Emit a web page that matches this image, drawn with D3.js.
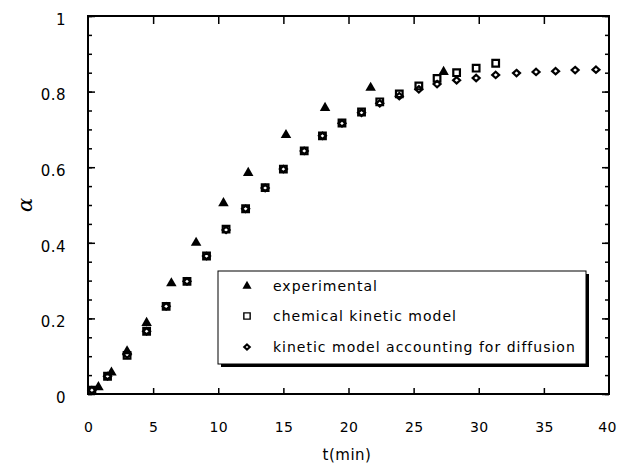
<!DOCTYPE html>
<html>
<head>
<meta charset="utf-8">
<script src="https://cdn.jsdelivr.net/npm/d3@7"></script>
<style>
  html, body { margin: 0; padding: 0; background: #fff; }
  svg { display: block; }
  text { font-family: "DejaVu Sans", sans-serif; fill: #000; }
</style>
</head>
<body>
<svg id="chart" width="618" height="466"></svg>
<script>
// ---- data ----
const expT     = [0.8, 1.8, 3.0, 4.5, 6.4, 8.3, 10.4, 12.3, 15.2, 18.2, 21.7, 27.3];
const expAlpha = [0.018, 0.057, 0.113, 0.188, 0.293, 0.400, 0.505, 0.585, 0.685, 0.757, 0.810, 0.852];

const chemT     = [0.3, 1.5, 3.0, 4.5, 6.0, 7.6, 9.1, 10.6, 12.1, 13.6, 15.0, 16.6, 18.0, 19.5, 21.0, 22.4, 23.9, 25.4, 26.8, 28.3, 29.8, 31.3];
const chemAlpha = [0.010, 0.047, 0.102, 0.166, 0.232, 0.298, 0.365, 0.436, 0.490, 0.546, 0.595, 0.643, 0.683, 0.717, 0.746, 0.773, 0.794, 0.815, 0.835, 0.850, 0.862, 0.875];

const diffT     = [0.3, 1.5, 3.0, 4.5, 6.0, 7.6, 9.1, 10.6, 12.1, 13.6, 15.0, 16.6, 18.0, 19.5, 21.0, 22.4, 23.9, 25.4, 26.8, 28.3, 29.8, 31.3, 32.9, 34.4, 35.9, 37.4, 39.0];
const diffAlpha = [0.010, 0.047, 0.104, 0.166, 0.232, 0.298, 0.365, 0.434, 0.490, 0.545, 0.595, 0.643, 0.683, 0.716, 0.744, 0.769, 0.788, 0.806, 0.820, 0.830, 0.836, 0.844, 0.849, 0.852, 0.854, 0.857, 0.858];

const xTicks = [0, 5, 10, 15, 20, 25, 30, 35, 40];
const yTicks = [0, 0.2, 0.4, 0.6, 0.8, 1];
const yTickLabels = ["0", "0.2", "0.4", "0.6", "0.8", "1"];
const yMinorTicks = d3.range(0, 1.0001, 0.05).map(v => +v.toFixed(2));
const legendLabels = ["experimental", "chemical kinetic model", "kinetic model accounting for diffusion"];
const xTitle = "t(min)";
const yTitle = "\u03B1";

// ---- layout ----
const svg = d3.select("#chart");
const L = 88, R = 609, T = 16, B = 394;
const x = d3.scaleLinear().domain([0, 40]).range([L, R]);
const y = d3.scaleLinear().domain([0, 1]).range([B, T]);

const axisStyle = (fs, ls) => g => {
  g.select(".domain").remove();
  g.selectAll(".tick line").attr("stroke", "#000").attr("stroke-width", 1.5);
  g.selectAll(".tick text").style("font-size", fs).style("font-family", "DejaVu Sans, sans-serif")
    .style("letter-spacing", ls).attr("fill", "#000");
};

svg.append("g").attr("transform", `translate(0,${B})`)
  .call(d3.axisBottom(x).tickValues(xTicks).tickSize(-6).tickPadding(28).tickFormat(d3.format("d")))
  .call(axisStyle("14px", "0.3px"))
  .call(g => g.selectAll(".tick").filter(d => d === 0 || d === 40).select("line").remove())
  .call(g => g.selectAll(".tick").filter(d => d === 40).select("text").attr("x", -2));

svg.append("g").attr("transform", `translate(0,${T})`)
  .call(d3.axisTop(x).tickValues(xTicks.filter(d => d > 0 && d < 40)).tickSize(-8).tickFormat(""))
  .call(axisStyle("14px", "0px"));

svg.append("g").attr("transform", `translate(${L},0)`)
  .call(d3.axisLeft(y).tickValues(yMinorTicks).tickSize(-4).tickFormat(""))
  .call(axisStyle("15px", "0px"));
svg.append("g").attr("transform", `translate(${L},0)`)
  .call(d3.axisLeft(y).tickValues(yTicks).tickSize(-7).tickPadding(22).tickFormat((d, i) => yTickLabels[i]))
  .call(axisStyle("15px", "0.5px"))
  .call(g => g.selectAll(".tick text").attr("dy", "0.55em"));

svg.append("g").attr("transform", `translate(${R},0)`)
  .call(d3.axisRight(y).tickValues(yMinorTicks).tickSize(-4).tickFormat(""))
  .call(axisStyle("15px", "0px"));
svg.append("g").attr("transform", `translate(${R},0)`)
  .call(d3.axisRight(y).tickValues(yTicks).tickSize(-7).tickFormat(""))
  .call(axisStyle("15px", "0px"));

// frame
svg.append("rect").attr("x", L).attr("y", T).attr("width", R - L).attr("height", B - T)
  .attr("fill", "none").attr("stroke", "#000").attr("stroke-width", 2);

// titles
svg.append("text").attr("x", 347).attr("y", 460).attr("text-anchor", "middle")
  .style("font-size", "15px").style("letter-spacing", "0.5px").text(xTitle);
svg.append("text").attr("transform", "translate(32,205) rotate(-90)").attr("text-anchor", "middle")
  .style("font-family", "DejaVu Serif, serif").style("font-style", "italic").style("font-size", "21px").text(yTitle);

// symbols
const diamond = {
  draw(ctx, size) {
    const w = Math.sqrt(size) / 2 * 1.1, h = Math.sqrt(size) / 2;
    ctx.moveTo(0, -h); ctx.lineTo(w, 0); ctx.lineTo(0, h); ctx.lineTo(-w, 0); ctx.closePath();
  }
};
const tri = d3.symbol().type(d3.symbolTriangle).size(48);
const sq = d3.symbol().type(d3.symbolSquare).size(44);
const di = d3.symbol().type(diamond).size(40);

const plot = svg.append("g");
plot.selectAll(".sq").data(chemT.map((t, i) => [t, chemAlpha[i]])).join("path")
  .attr("transform", d => `translate(${x(d[0])},${y(d[1])})`).attr("d", sq)
  .attr("fill", "none").attr("stroke", "#000").attr("stroke-width", 2.2);
plot.selectAll(".di").data(diffT.map((t, i) => [t, diffAlpha[i]])).join("path")
  .attr("transform", d => `translate(${x(d[0])},${y(d[1])})`).attr("d", di)
  .attr("fill", "none").attr("stroke", "#000").attr("stroke-width", 2.2);
plot.selectAll(".tri").data(expT.map((t, i) => [t, expAlpha[i]])).join("path")
  .attr("transform", d => `translate(${x(d[0])},${y(d[1])})`).attr("d", tri)
  .attr("fill", "#000");

// legend
const lg = svg.append("g");
lg.append("rect").attr("x", 221).attr("y", 274).attr("width", 368).attr("height", 93).attr("fill", "#000");
lg.append("rect").attr("x", 218).attr("y", 271).attr("width", 368).attr("height", 93)
  .attr("fill", "#fff").attr("stroke", "#000").attr("stroke-width", 1);
const rowsY = [286, 316, 347];
const legSyms = [
  d3.symbol().type(d3.symbolTriangle).size(36),
  d3.symbol().type(d3.symbolSquare).size(40),
  d3.symbol().type(diamond).size(26)
];
legendLabels.forEach((lab, i) => {
  const p = lg.append("path").attr("transform", `translate(247,${rowsY[i]})`).attr("d", legSyms[i]);
  if (i === 0) p.attr("fill", "#000");
  else p.attr("fill", "none").attr("stroke", "#000").attr("stroke-width", i === 1 ? 1.4 : 2);
  lg.append("text").attr("x", 273).attr("y", rowsY[i] + 5).style("font-size", "14px")
    .style("letter-spacing", "1px").text(lab);
});
</script>
</body>
</html>
